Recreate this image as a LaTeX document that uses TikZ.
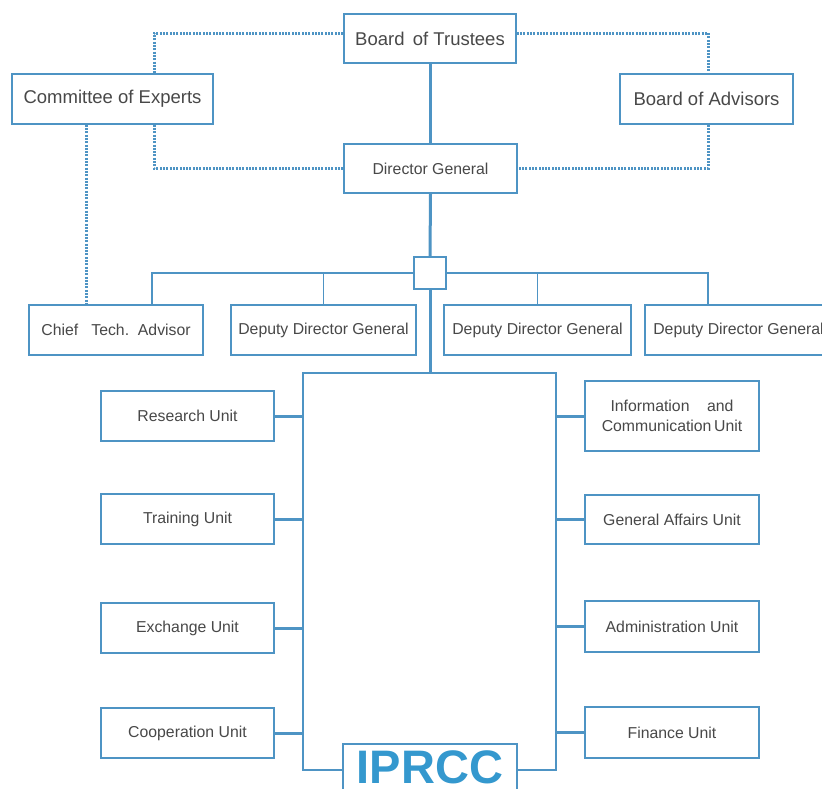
\documentclass[tikz,border=0pt]{standalone}
\usepackage{fontspec}
\setmainfont{Liberation Sans}
\definecolor{bc}{RGB}{78,148,196}
\definecolor{tc}{RGB}{72,72,72}
\definecolor{ipc}{RGB}{52,152,206}
\tikzset{
  box/.style={draw=bc, line width=1.5pt, fill=white, minimum height=50pt, inner sep=0pt, text=tc, align=center, font=\fontsize{15.8}{20}\selectfont},
  bigbox/.style={box, font=\fontsize{18.5}{22}\selectfont},
  mainline/.style={draw=bc, line width=3pt},
  busline/.style={draw=bc, line width=1.5pt},
  frameline/.style={draw=bc, line width=1.5pt},
  unitline/.style={draw=bc, line width=3pt},
  dotline/.style={draw=bc, line width=3pt, dash pattern=on 2pt off 1.3pt},
}
\begin{document}
\begin{tikzpicture}[x=1pt,y=-1pt]
\clip (0,0) rectangle (822,788);
\useasboundingbox (0,0) rectangle (822,788);
\fill[white] (0,0) rectangle (822,788);
% top level
\node[bigbox, minimum width=172pt, minimum height=49pt] (bot) at (430,38.5) {Board\hspace{0.45em}of Trustees};
\node[bigbox, minimum width=201pt] (coe) at (112.5,99) {Committee of Experts};
\node[bigbox, minimum width=173pt] (boa) at (706.5,99) {Board of Advisors};
\node[box, minimum width=173pt, minimum height=49pt] (dg) at (430.5,168.5) {Director General};
\node[box, minimum width=32pt, minimum height=32pt] (sq) at (430,273) {};
% deputies
\node[box, minimum width=174pt] (cta) at (116,330) {Chief\ \ \ Tech.\ \ Advisor};
\node[box, minimum width=185pt] (ddg1) at (323.5,330) {Deputy Director General};
\node[box, minimum width=187pt] (ddg2) at (537.5,330) {Deputy Director General};
\node[box, minimum width=187pt] (ddg3) at (738.5,330) {Deputy Director General};
% frame corners
\coordinate (ftl) at (303,373);
\coordinate (ftr) at (556,373);
\coordinate (fbl) at (303,770);
\coordinate (fbr) at (556,770);
% units
\node[box, minimum width=173pt] (ru) at (187.5,416) {Research Unit};
\node[box, minimum width=173pt] (tu) at (187.5,519) {Training Unit};
\node[box, minimum width=173pt] (eu) at (187.5,628) {Exchange Unit};
\node[box, minimum width=173pt] (cu) at (187.5,733) {Cooperation Unit};
\node[box, minimum width=174pt, minimum height=70pt] (icu) at (672,416) {Information\ \ \ \ and\\Communication\,Unit};
\node[box, minimum width=174pt, minimum height=49pt] (gau) at (672,519.5) {General Affairs Unit};
\node[box, minimum width=174pt, minimum height=51pt] (au) at (672,626.5) {Administration Unit};
\node[box, minimum width=174pt, minimum height=51pt] (fu) at (672,732.5) {Finance Unit};
\node[draw=bc, line width=1.5pt, fill=white, minimum width=174pt, minimum height=46pt, inner sep=0pt, text=ipc, text height=33pt, text depth=0pt, font=\fontsize{47}{47}\selectfont\bfseries] (ip) at (430,767) {IPRCC};
% main line
\draw[mainline] (bot.south) -- (bot.south |- dg.north);
\draw[mainline] (dg.south) -- (sq.north);
\draw[mainline] (sq.south) -- (sq.south |- ftl);
% bus
\draw[busline] (sq.west) -| ([xshift=36pt]cta.north);
\draw[busline] (sq.west) -| (ddg1.north);
\draw[busline] (sq.east) -| (ddg2.north);
\draw[busline] (sq.east) -| ([xshift=-30.5pt]ddg3.north);
% frame
\draw[frameline] (ip.west |- fbl) -- (fbl) -- (ftl) -- (ftr) -- (fbr) -- (ip.east |- fbr);
% unit connectors
\foreach \u in {ru,tu,eu,cu} \draw[unitline] (\u.east) -- (\u.east -| ftl);
\foreach \u in {icu,gau,au,fu} \draw[unitline] (\u.west) -- (\u.west -| ftr);
% dotted
\draw[dotline] ([yshift=5.5pt]bot.west) -| ([xshift=41.5pt]coe.north);
\draw[dotline] ([xshift=41.5pt]coe.south) |- (dg.west);
\draw[dotline] ([yshift=5.5pt]bot.east) -| ([xshift=1.5pt]boa.north);
\draw[dotline] ([xshift=1.5pt]boa.south) |- (dg.east);
\draw[dotline] ([xshift=-26.5pt]coe.south) -- ([xshift=-26.5pt]coe.south |- cta.north);
\end{tikzpicture}
\end{document}
